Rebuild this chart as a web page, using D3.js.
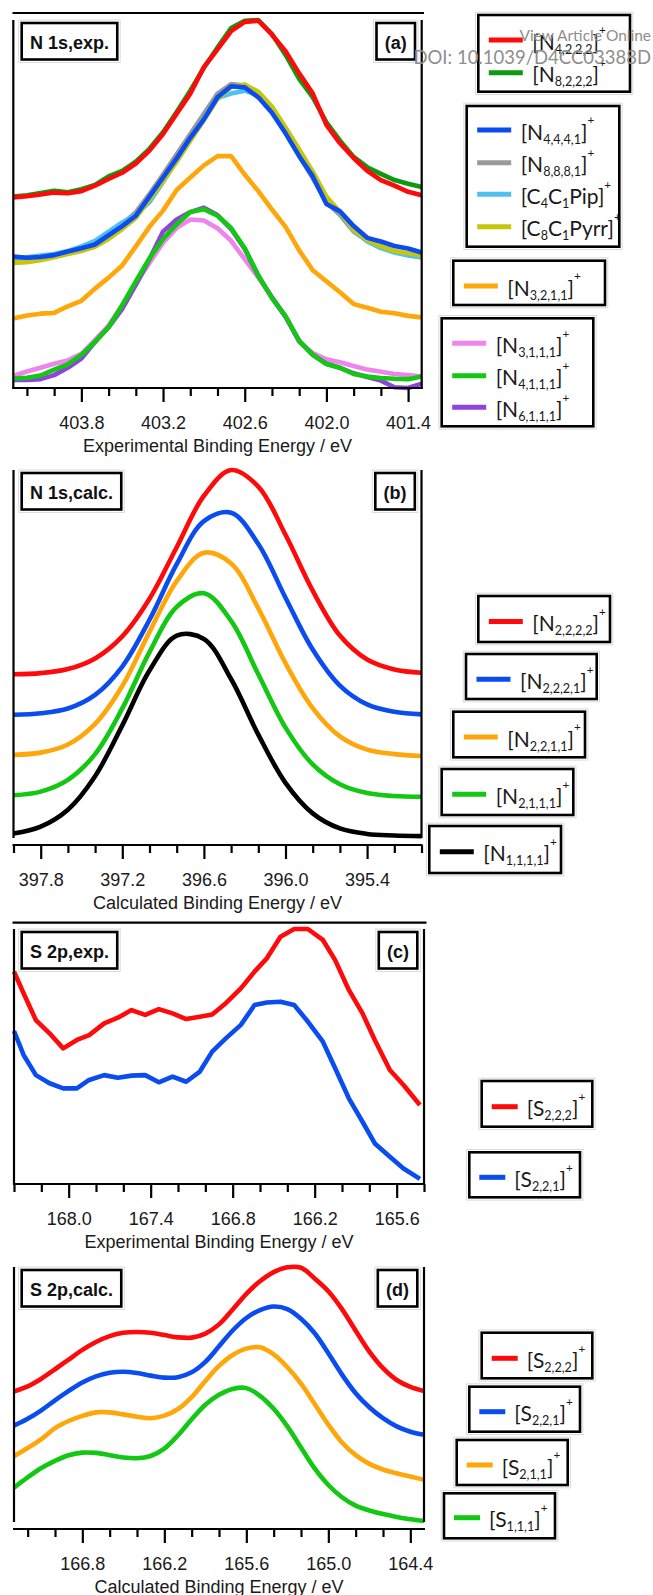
<!DOCTYPE html>
<html>
<head>
<meta charset="utf-8">
<script src="https://cdn.jsdelivr.net/npm/d3@7"></script>
<style>
  html, body { margin: 0; padding: 0; background: #fff; }
  svg { display: block; }
</style>
</head>
<body>
<svg id="fig" width="653" height="1595"></svg>
<script>
// ---------------- data ----------------
// (a) N 1s experimental spectra, binding energy in eV, normalised intensity
const energyA = [404.3, 404.2, 404.1, 404.0, 403.9, 403.8, 403.7, 403.6, 403.5, 403.4, 403.3,
                 403.2, 403.1, 403.0, 402.9, 402.8, 402.7, 402.6, 402.5, 402.4, 402.3,
                 402.2, 402.1, 402.0, 401.9, 401.8, 401.7, 401.6, 401.5, 401.4, 401.3];
const expN4222 = [0.518, 0.521, 0.526, 0.531, 0.529, 0.535, 0.550, 0.568, 0.585, 0.610, 0.645,
                  0.690, 0.745, 0.800, 0.872, 0.920, 0.970, 0.995, 0.998, 0.960, 0.915,
                  0.855, 0.800, 0.715, 0.665, 0.625, 0.590, 0.565, 0.550, 0.533, 0.524];
const expN8222 = [0.520, 0.524, 0.530, 0.536, 0.532, 0.540, 0.552, 0.575, 0.590, 0.615, 0.650,
                  0.695, 0.750, 0.808, 0.870, 0.925, 0.978, 0.998, 1.000, 0.962, 0.905,
                  0.840, 0.790, 0.722, 0.672, 0.628, 0.600, 0.582, 0.565, 0.555, 0.546];
const expN4441 = [0.357, 0.354, 0.356, 0.361, 0.371, 0.380, 0.390, 0.415, 0.440, 0.468, 0.520,
                  0.572, 0.624, 0.680, 0.730, 0.790, 0.820, 0.817, 0.790, 0.748, 0.692,
                  0.630, 0.575, 0.500, 0.480, 0.440, 0.408, 0.398, 0.386, 0.379, 0.368];
const expN8881 = [0.350, 0.352, 0.357, 0.362, 0.370, 0.382, 0.395, 0.418, 0.445, 0.478, 0.527,
                  0.580, 0.635, 0.690, 0.745, 0.800, 0.826, 0.822, 0.795, 0.752, 0.695,
                  0.632, 0.570, 0.505, 0.470, 0.425, 0.400, 0.385, 0.372, 0.362, 0.356];
const expC4C1Pip = [0.352, 0.355, 0.360, 0.364, 0.372, 0.385, 0.400, 0.425, 0.450, 0.470, 0.505,
                    0.560, 0.618, 0.676, 0.730, 0.788, 0.800, 0.808, 0.795, 0.755, 0.700,
                    0.640, 0.580, 0.515, 0.475, 0.428, 0.398, 0.380, 0.368, 0.360, 0.355];
const expC8C1Pyrr = [0.340, 0.342, 0.347, 0.355, 0.364, 0.372, 0.384, 0.405, 0.432, 0.462, 0.512,
                     0.562, 0.615, 0.672, 0.728, 0.785, 0.818, 0.825, 0.805, 0.765, 0.708,
                     0.648, 0.588, 0.520, 0.478, 0.430, 0.402, 0.385, 0.372, 0.366, 0.360];
const expN3211 = [0.189, 0.197, 0.202, 0.204, 0.222, 0.237, 0.270, 0.300, 0.333, 0.385, 0.438,
                  0.482, 0.538, 0.572, 0.605, 0.630, 0.630, 0.580, 0.535, 0.485, 0.438,
                  0.374, 0.320, 0.290, 0.260, 0.228, 0.218, 0.207, 0.203, 0.196, 0.192];
const expN3111 = [0.033, 0.045, 0.055, 0.066, 0.075, 0.093, 0.130, 0.170, 0.225, 0.285, 0.340,
                  0.395, 0.435, 0.458, 0.455, 0.434, 0.400, 0.350, 0.300, 0.248, 0.195,
                  0.125, 0.095, 0.078, 0.070, 0.060, 0.050, 0.044, 0.038, 0.035, 0.031];
const expN4111 = [0.026, 0.028, 0.034, 0.050, 0.064, 0.090, 0.125, 0.165, 0.225, 0.290, 0.352,
                  0.405, 0.445, 0.478, 0.486, 0.468, 0.435, 0.380, 0.305, 0.245, 0.195,
                  0.128, 0.090, 0.065, 0.055, 0.038, 0.031, 0.027, 0.025, 0.024, 0.031];
const expN6111 = [0.022, 0.022, 0.024, 0.035, 0.055, 0.080, 0.125, 0.165, 0.215, 0.280, 0.350,
                  0.425, 0.458, 0.478, 0.490, 0.470, 0.432, 0.378, 0.305, 0.245, 0.193,
                  0.128, 0.090, 0.066, 0.055, 0.040, 0.030, 0.020, 0.002, 0.000, 0.012];

// (b) N 1s calculated spectra
const energyB = [398.0, 397.8, 397.6, 397.4, 397.2, 397.0, 396.8, 396.6,
                 396.4, 396.2, 396.0, 395.8, 395.6, 395.4, 395.2, 395.0];
const calcN2222 = [0.445, 0.448, 0.459, 0.488, 0.548, 0.650, 0.790, 0.930,
                   1.000, 0.955, 0.824, 0.672, 0.550, 0.485, 0.458, 0.449];
const calcN2221 = [0.335, 0.339, 0.352, 0.389, 0.466, 0.593, 0.744, 0.861,
                   0.884, 0.799, 0.653, 0.512, 0.414, 0.363, 0.343, 0.336];
const calcN2211 = [0.226, 0.232, 0.254, 0.310, 0.413, 0.560, 0.698, 0.775,
                   0.746, 0.624, 0.475, 0.353, 0.276, 0.240, 0.228, 0.223];
const calcN2111 = [0.116, 0.126, 0.158, 0.228, 0.352, 0.505, 0.628, 0.665,
                   0.590, 0.445, 0.300, 0.200, 0.146, 0.122, 0.114, 0.112];
const calcN1111 = [0.012, 0.031, 0.077, 0.168, 0.306, 0.455, 0.550, 0.541,
                   0.432, 0.281, 0.150, 0.067, 0.026, 0.011, 0.007, 0.005];

// (c) S 2p experimental spectra
const energyC = [168.40, 168.33, 168.24, 168.14, 168.04, 167.94, 167.85, 167.74, 167.64, 167.54, 167.44,
                 167.34, 167.24, 167.14, 167.04, 166.95, 166.85, 166.74, 166.64, 166.55, 166.45,
                 166.35, 166.25, 166.14, 166.05, 165.95, 165.85, 165.76, 165.65, 165.55, 165.43];
const expS222 = [0.833, 0.748, 0.643, 0.591, 0.532, 0.565, 0.584, 0.630, 0.652, 0.682, 0.663,
                 0.686, 0.669, 0.647, 0.656, 0.665, 0.709, 0.767, 0.833, 0.885, 0.970,
                 1.000, 1.000, 0.957, 0.878, 0.761, 0.669, 0.565, 0.447, 0.388, 0.310];
const expS221 = [0.600, 0.506, 0.427, 0.395, 0.375, 0.375, 0.408, 0.427, 0.417, 0.425, 0.427,
                 0.399, 0.421, 0.401, 0.441, 0.519, 0.571, 0.624, 0.702, 0.712, 0.715,
                 0.702, 0.637, 0.558, 0.454, 0.336, 0.244, 0.159, 0.107, 0.061, 0.020];

// (d) S 2p calculated spectra
const energyD = [167.3, 167.2, 167.1, 167.0, 166.9, 166.8, 166.7, 166.6, 166.5, 166.4, 166.3,
                 166.2, 166.1, 166.0, 165.9, 165.8, 165.7, 165.6, 165.5, 165.4, 165.3,
                 165.2, 165.1, 165.0, 164.9, 164.8, 164.7, 164.6, 164.5, 164.4, 164.3];
const calcS222 = [0.512, 0.532, 0.562, 0.599, 0.637, 0.675, 0.706, 0.729, 0.742, 0.745, 0.742,
                  0.733, 0.724, 0.723, 0.739, 0.775, 0.833, 0.895, 0.944, 0.980, 0.999,
                  0.997, 0.955, 0.905, 0.835, 0.750, 0.668, 0.603, 0.557, 0.530, 0.514];
const calcS221 = [0.378, 0.405, 0.438, 0.477, 0.514, 0.547, 0.571, 0.585, 0.589, 0.584, 0.574,
                  0.566, 0.568, 0.587, 0.628, 0.689, 0.751, 0.800, 0.831, 0.845, 0.835,
                  0.797, 0.740, 0.662, 0.578, 0.505, 0.450, 0.407, 0.375, 0.354, 0.342];
const calcS211 = [0.258, 0.290, 0.325, 0.368, 0.396, 0.416, 0.430, 0.430, 0.422, 0.413, 0.407,
                  0.417, 0.443, 0.490, 0.553, 0.612, 0.655, 0.680, 0.685, 0.657, 0.607,
                  0.543, 0.463, 0.382, 0.312, 0.262, 0.228, 0.206, 0.191, 0.178, 0.166];
const calcS111 = [0.135, 0.175, 0.212, 0.240, 0.262, 0.272, 0.271, 0.262, 0.253, 0.250, 0.259,
                  0.288, 0.340, 0.403, 0.460, 0.499, 0.522, 0.525, 0.495, 0.444, 0.375,
                  0.292, 0.210, 0.145, 0.097, 0.064, 0.045, 0.031, 0.020, 0.011, 0.004];

// series labels
const labelsA = ["[N_{4,2,2,2}]^{+}", "[N_{8,2,2,2}]^{+}", "[N_{4,4,4,1}]^{+}", "[N_{8,8,8,1}]^{+}",
                 "[C_{4}C_{1}Pip]^{+}", "[C_{8}C_{1}Pyrr]^{+}", "[N_{3,2,1,1}]^{+}",
                 "[N_{3,1,1,1}]^{+}", "[N_{4,1,1,1}]^{+}", "[N_{6,1,1,1}]^{+}"];
const labelsB = ["[N_{2,2,2,2}]^{+}", "[N_{2,2,2,1}]^{+}", "[N_{2,2,1,1}]^{+}", "[N_{2,1,1,1}]^{+}", "[N_{1,1,1,1}]^{+}"];
const labelsC = ["[S_{2,2,2}]^{+}", "[S_{2,2,1}]^{+}"];
const labelsD = ["[S_{2,2,2}]^{+}", "[S_{2,2,1}]^{+}", "[S_{2,1,1}]^{+}", "[S_{1,1,1}]^{+}"];

// ---------------- styling ----------------
const C = {
  red: "#ff0a0a", dkgreen: "#0b9a12", blue: "#0a4cf0", gray: "#9a9a9a", ltblue: "#4fc0ef",
  olive: "#c6c70c", orange: "#ffa60a", violet: "#ee84ec", green: "#12c812", purple: "#8f43dc", black: "#000"
};
const AX_FONT = "'Liberation Sans', Arial, Helvetica, sans-serif";
const LEG_FONT = "Lato, 'Open Sans', sans-serif";
const LW = 4.6;

const svg = d3.select("#fig");

// ---------------- panels ----------------
const panels = [
  {
    tag: "(a)", name: "N 1s,exp.", title: "Experimental Binding Energy / eV",
    xr: [13.3, 421.7], yr: [388, 20], axisY: 388, rule: {y: 13, x1: 424},
    domain: [404.3, 401.3], energy: energyA, curve: d3.curveLinear,
    series: [
      {v: expN8222, c: C.dkgreen, l: labelsA[1]},
      {v: expN4222, c: C.red, l: labelsA[0]},
      {v: expN8881, c: C.gray, l: labelsA[3]},
      {v: expC4C1Pip, c: C.ltblue, l: labelsA[4]},
      {v: expC8C1Pyrr, c: C.olive, l: labelsA[5]},
      {v: expN4441, c: C.blue, l: labelsA[2]},
      {v: expN3211, c: C.orange, l: labelsA[6]},
      {v: expN3111, c: C.violet, l: labelsA[7]},
      {v: expN6111, c: C.purple, l: labelsA[9]},
      {v: expN4111, c: C.green, l: labelsA[8]}
    ],
    legend: {lineOff: 10.5, lineLen: 34, textOff: 54, boxes: [
      {x: 478.3, y: 15, w: 151.7, h: 76.7, rows: [[40, C.red, labelsA[0]], [72.7, C.dkgreen, labelsA[1]]]},
      {x: 466.7, y: 106, w: 152.6, h: 140.7, rows: [[130, C.blue, labelsA[2]], [162.7, C.gray, labelsA[3]],
                                                    [194.3, C.ltblue, labelsA[4]], [226.7, C.olive, labelsA[5]]]},
      {x: 453.3, y: 260.7, w: 151.7, h: 44.3, rows: [[286, C.orange, labelsA[6]]]},
      {x: 441.7, y: 318.3, w: 151.6, h: 108, rows: [[343.3, C.violet, labelsA[7]], [375.7, C.green, labelsA[8]],
                                                    [407.3, C.purple, labelsA[9]]]}
    ]}
  },
  {
    tag: "(b)", name: "N 1s,calc.", title: "Calculated Binding Energy / eV",
    xr: [13.5, 421.5], yr: [838, 470], axisY: 845, rule: null,
    domain: [398.0, 395.0], energy: energyB, curve: d3.curveCatmullRom.alpha(0.5),
    series: [
      {v: calcN2222, c: C.red}, {v: calcN2221, c: C.blue}, {v: calcN2211, c: C.orange},
      {v: calcN2111, c: C.green}, {v: calcN1111, c: C.black}
    ],
    legend: {lineOff: 10.5, lineLen: 34, textOff: 54, boxes: [
      {x: 478.3, y: 596, w: 131.7, h: 46, rows: [[621.5, C.red, labelsB[0]]]},
      {x: 466, y: 654, w: 130.7, h: 45, rows: [[679.3, C.blue, labelsB[1]]]},
      {x: 453.3, y: 711.7, w: 131.7, h: 45.6, rows: [[737, C.orange, labelsB[2]]]},
      {x: 441.7, y: 769, w: 131.6, h: 46, rows: [[794.3, C.green, labelsB[3]]]},
      {x: 429.3, y: 826, w: 131.7, h: 47, rows: [[851.7, C.black, labelsB[4]]]}
    ]}
  },
  {
    tag: "(c)", name: "S 2p,exp.", title: "Experimental Binding Energy / eV",
    xr: [14, 424], yr: [1184, 929], axisY: 1184, rule: {y: 922.7, x1: 426.5},
    domain: [168.4, 165.4], energy: energyC, curve: d3.curveLinear,
    series: [{v: expS222, c: C.red}, {v: expS221, c: C.blue}],
    legend: {lineOff: 10, lineLen: 26, textOff: 45, boxes: [
      {x: 481.7, y: 1081, w: 110.6, h: 45.7, rows: [[1106.7, C.red, labelsC[0]]]},
      {x: 469.3, y: 1152.3, w: 110.7, h: 45, rows: [[1177.3, C.blue, labelsC[1]]]}
    ]}
  },
  {
    tag: "(d)", name: "S 2p,calc.", title: "Calculated Binding Energy / eV",
    xr: [14, 424], yr: [1522, 1267], axisY: 1529, rule: null,
    domain: [167.3, 164.3], energy: energyD, curve: d3.curveCatmullRom.alpha(0.5),
    series: [{v: calcS222, c: C.red}, {v: calcS221, c: C.blue}, {v: calcS211, c: C.orange}, {v: calcS111, c: C.green}],
    legend: {lineOff: 10, lineLen: 26, textOff: 45, boxes: [
      {x: 481.7, y: 1332.7, w: 110.6, h: 45.6, rows: [[1358.3, C.red, labelsD[0]]]},
      {x: 469.3, y: 1386.7, w: 110.7, h: 45, rows: [[1411.7, C.blue, labelsD[1]]]},
      {x: 456.7, y: 1440, w: 111, h: 45, rows: [[1465, C.orange, labelsD[2]]]},
      {x: 444, y: 1493.3, w: 111, h: 45, rows: [[1517.7, C.green, labelsD[3]]]}
    ]}
  }
];

// label text with _{sub} and ^{sup} parts
function richText(sel, str, fs) {
  const parts = str.match(/_\{[^}]*\}|\^\{[^}]*\}|[^_^]+/g);
  let shift = 0;
  parts.forEach(p => {
    let size = fs, target = 0, txt = p;
    if (p[0] === "_") { txt = p.slice(2, -1); size = fs * 0.6; target = fs * 0.2; }
    else if (p[0] === "^") { txt = p.slice(2, -1); size = fs * 0.56; target = -fs * 0.72; }
    sel.append("tspan").attr("font-size", size).attr("dy", target - shift).text(txt);
    shift = target;
  });
}

// framed tag box (bold text inside black frame with faint outer frame)
function tagBox(g, text, x, y, anchorRight) {
  const t = g.append("text")
    .attr("font-family", AX_FONT).attr("font-weight", "bold").attr("font-size", 18)
    .attr("fill", "#111").text(text);
  const w = t.node().getComputedTextLength() + 16.5;
  const h = 36.5;
  const bx = anchorRight ? x - w : x;
  g.insert("rect", "text").attr("x", bx - 3).attr("y", y - 3).attr("width", w + 6).attr("height", h + 6)
    .attr("fill", "none").attr("stroke", "#dcdcdc").attr("stroke-width", 1);
  g.insert("rect", "text").attr("x", bx).attr("y", y).attr("width", w).attr("height", h)
    .attr("fill", "#fff").attr("stroke", "#000").attr("stroke-width", 2.6);
  t.attr("x", bx + w / 2).attr("y", y + 25.5).attr("text-anchor", "middle");
}

panels.forEach(p => {
  const g = svg.append("g");
  const x = d3.scaleLinear().domain(p.domain).range(p.xr);
  const y = d3.scaleLinear().domain([0, 1]).range(p.yr);

  // spectra
  const line = d3.line().curve(p.curve).x((d, i) => x(p.energy[i])).y(d => y(d));
  g.append("g").selectAll("path").data(p.series).join("path")
    .attr("d", s => line(s.v))
    .attr("fill", "none").attr("stroke", s => s.c).attr("stroke-width", LW)
    .attr("stroke-linejoin", "round").attr("stroke-linecap", "butt");

  // frame
  const fr = g.append("g").attr("stroke", "#000").attr("stroke-width", 2.2);
  fr.append("line").attr("x1", p.xr[0]).attr("x2", p.xr[0]).attr("y1", p.yr[1]).attr("y2", p.yr[0] + (p.axisY === p.yr[0] ? 1 : 0));
  fr.append("line").attr("x1", p.xr[1]).attr("x2", p.xr[1]).attr("y1", p.yr[1]).attr("y2", p.yr[0] + (p.axisY === p.yr[0] ? 1 : 0));
  fr.append("line").attr("x1", p.xr[0] - 1).attr("x2", p.xr[1] + 1).attr("y1", p.axisY).attr("y2", p.axisY);
  if (p.rule) {
    fr.append("line").attr("x1", 12.5).attr("x2", p.rule.x1).attr("y1", p.rule.y).attr("y2", p.rule.y);
  }

  // ticks: minor every 0.2 eV, labelled every 0.6 eV
  const lo = Math.min(...p.domain), hi = Math.max(...p.domain);
  const all = d3.range(Math.ceil(lo / 0.2 - 1e-6), Math.floor(hi / 0.2 + 1e-6) + 1).map(k => +(k * 0.2).toFixed(1));
  const major = all.filter(v => Math.abs(v / 0.6 - Math.round(v / 0.6)) < 1e-6);
  const minor = all.filter(v => !major.includes(v));

  const minorAxis = g.append("g").attr("transform", `translate(0,${p.axisY})`)
    .call(d3.axisBottom(x).tickValues(minor).tickSize(8).tickFormat(""));
  const majorAxis = g.append("g").attr("transform", `translate(0,${p.axisY})`)
    .call(d3.axisBottom(x).tickValues(major).tickSize(14).tickFormat(d3.format(".1f")));
  [minorAxis, majorAxis].forEach(a => {
    a.select(".domain").remove();
    a.selectAll(".tick line").attr("stroke", "#000").attr("stroke-width", 2.2);
  });
  majorAxis.selectAll(".tick text")
    .attr("y", 41).attr("dy", null)
    .attr("font-family", AX_FONT).attr("font-size", 18).attr("fill", "#1a1a1a");

  // axis title
  g.append("text")
    .attr("x", (p.xr[0] + p.xr[1]) / 2).attr("y", p.axisY + 63.5)
    .attr("text-anchor", "middle").attr("font-family", AX_FONT).attr("font-size", 18).attr("fill", "#1a1a1a")
    .text(p.title);

  // tag boxes
  tagBox(g.append("g"), p.name, 21.7, p.yr[1] + 3, false);
  tagBox(g.append("g"), p.tag, p.xr[1] - 6.7, p.yr[1] + 3, true);

  // legends
  const L = p.legend;
  L.boxes.forEach(b => {
    const lg = g.append("g");
    lg.append("rect").attr("x", b.x - 2.8).attr("y", b.y - 2.8).attr("width", b.w + 5.6).attr("height", b.h + 5.6)
      .attr("fill", "none").attr("stroke", "#dadada").attr("stroke-width", 1);
    lg.append("rect").attr("x", b.x).attr("y", b.y).attr("width", b.w).attr("height", b.h)
      .attr("fill", "#fff").attr("stroke", "#000").attr("stroke-width", 2.6);
    b.rows.forEach(([ry, col, lab]) => {
      lg.append("line").attr("x1", b.x + L.lineOff).attr("x2", b.x + L.lineOff + L.lineLen)
        .attr("y1", ry).attr("y2", ry).attr("stroke", col).attr("stroke-width", LW + 0.4);
      const t = lg.append("text").attr("x", b.x + L.textOff).attr("y", ry + 9.5)
        .attr("font-family", LEG_FONT).attr("fill", "#1a1a1a");
      richText(t, lab, 21);
    });
  });
});

// page overlay text
const wm = svg.append("g").attr("font-family", LEG_FONT).attr("fill", "#8e8e8e").attr("text-anchor", "end");
wm.append("text").attr("x", 651).attr("y", 40.5).attr("font-size", 15.5).text("View Article Online");
wm.append("text").attr("x", 651).attr("y", 64).attr("font-size", 18.5).text("DOI: 10.1039/D4CC03388D");
</script>
</body>
</html>
